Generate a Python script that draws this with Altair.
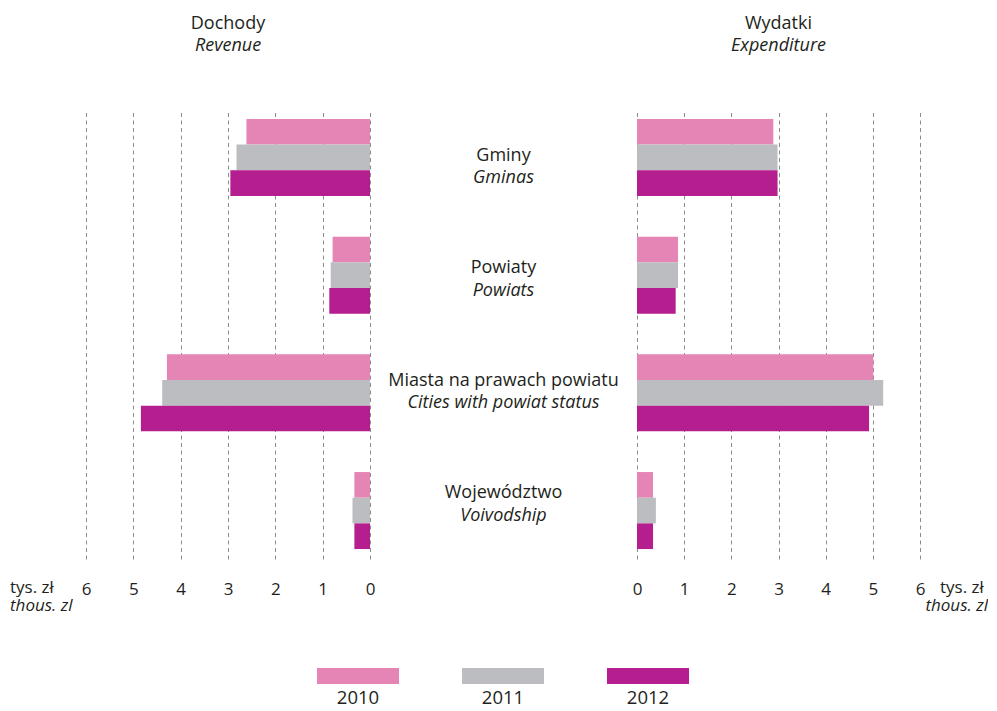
import altair as alt
import pandas as pd

# ---------------- data ----------------
categories_pl = ["Gminy", "Powiaty", "Miasta na prawach powiatu", "Województwo"]
categories_en = ["Gminas", "Powiats", "Cities with powiat status", "Voivodship"]
years = ["2010", "2011", "2012"]

revenue_2010 = [2.61, 0.79, 4.29, 0.33]
revenue_2011 = [2.82, 0.83, 4.39, 0.37]
revenue_2012 = [2.95, 0.86, 4.84, 0.33]

expenditure_2010 = [2.89, 0.87, 5.01, 0.34]
expenditure_2011 = [2.98, 0.87, 5.22, 0.40]
expenditure_2012 = [2.98, 0.82, 4.92, 0.34]

axis_ticks = [0, 1, 2, 3, 4, 5, 6]
colors = ["#e585b5", "#bcbdc0", "#b41e8e"]

# ---------------- tables ----------------
def long_table(series_list):
    rows = []
    for year, series in zip(years, series_list):
        for cat, v in zip(categories_pl, series):
            rows.append({"category": cat, "year": year, "value": v})
    return pd.DataFrame(rows)

df_rev = long_table([revenue_2010, revenue_2011, revenue_2012])
df_exp = long_table([expenditure_2010, expenditure_2011, expenditure_2012])
df_cat = pd.DataFrame({"category": categories_pl, "english": categories_en})
df_leg = pd.DataFrame({"year": years})
one = pd.DataFrame({"a": [0]})

FONT = "Open Sans"
TXT = "#231f20"
W_L, W_C, W_R, H = 284, 267, 283, 450

yscale = alt.Scale(domain=categories_pl, paddingInner=0.3458, paddingOuter=0.0846)
yenc = alt.Y("category:N", scale=yscale, axis=None, sort=categories_pl)
yoff = alt.YOffset("year:N", sort=years, scale=alt.Scale(paddingInner=0, paddingOuter=0))
cenc = alt.Color("year:N", scale=alt.Scale(domain=years, range=colors), legend=None)


def xaxis():
    return alt.Axis(values=axis_ticks, grid=True, gridDash=[4, 3.5], gridColor="#8c8c8c",
                    gridWidth=1, domain=False, ticks=False, tickSize=0, labelPadding=22,
                    labelFontSize=17, labelColor=TXT, labelFont=FONT, labelFlush=False,
                    title=None)


def text(t, size, italic=False, **kw):
    props = dict(text=t, fontSize=size, font=FONT, color=TXT, baseline="alphabetic")
    if italic:
        props["fontStyle"] = "italic"
    props.update(kw)
    return alt.Chart(one).mark_text(**props)


# ---------------- left: revenue ----------------
bars_left = alt.Chart(df_rev).mark_bar().encode(
    x=alt.X("value:Q", scale=alt.Scale(domain=[0, 6], reverse=True, nice=False), axis=xaxis()),
    y=yenc, yOffset=yoff, color=cenc,
)
left = alt.layer(
    bars_left,
    text("Dochody", 18).encode(y=alt.value(-80)),
    text("Revenue", 18, italic=True).encode(y=alt.value(-58)),
    text("tys. zł", 17, align="left").encode(x=alt.value(-76), y=alt.value(484)),
    text("thous. zl", 17, italic=True, align="left").encode(x=alt.value(-76), y=alt.value(502)),
).properties(width=W_L, height=H)

# ---------------- center: labels ----------------
center = alt.layer(
    alt.Chart(df_cat).mark_text(fontSize=18, font=FONT, color=TXT, baseline="alphabetic", dy=-4.5)
    .encode(y=yenc, text="category:N"),
    alt.Chart(df_cat).mark_text(fontSize=18, font=FONT, color=TXT, baseline="alphabetic",
                                fontStyle="italic", dy=18)
    .encode(y=yenc, text="english:N"),
).properties(width=W_C, height=H)

# ---------------- right: expenditure ----------------
bars_right = alt.Chart(df_exp).mark_bar().encode(
    x=alt.X("value:Q", scale=alt.Scale(domain=[0, 6], nice=False), axis=xaxis()),
    y=yenc, yOffset=yoff, color=cenc,
)
right = alt.layer(
    bars_right,
    text("Wydatki", 18).encode(y=alt.value(-80)),
    text("Expenditure", 18, italic=True).encode(y=alt.value(-58)),
    text("tys. zł", 17, align="left").encode(x=alt.value(303), y=alt.value(484)),
    text("thous. zl", 17, italic=True, align="right").encode(x=alt.value(351), y=alt.value(502)),
).properties(width=W_R, height=H)

row = alt.hconcat(left, center, right, spacing=0, bounds="flush")

# ---------------- legend ----------------
legend = alt.Chart(df_leg).mark_bar(width=82).encode(
    x=alt.X("year:N", sort=years,
            scale=alt.Scale(domain=years, paddingInner=0, paddingOuter=0.688, align=1),
            axis=alt.Axis(title=None, domain=False, ticks=False, tickSize=0, labelPadding=4,
                          labelFontSize=18.5, labelAngle=0, labelColor=TXT, labelFont=FONT)),
    color=cenc,
).properties(width=634.5, height=16)

chart = alt.vconcat(row, legend, spacing=54).properties(
    padding={"left": 2, "top": 7, "right": 0, "bottom": 0},
    background="white",
).configure(font=FONT).configure_view(stroke=None)

chart.save("out.html", embed_options={"renderer": "svg", "actions": False})
